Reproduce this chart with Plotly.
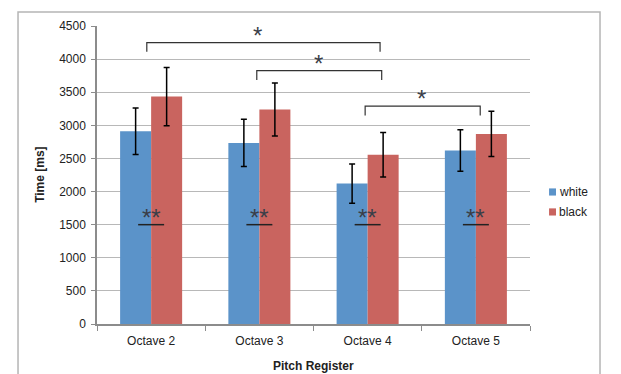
import plotly.graph_objects as go

categories = ["Octave 2", "Octave 3", "Octave 4", "Octave 5"]
series_names = ["white", "black"]
white_vals = [2910, 2735, 2120, 2620]
white_err = [350, 355, 295, 315]
black_vals = [3435, 3240, 2555, 2870]
black_err = [440, 400, 335, 342]
y_ticks = [0, 500, 1000, 1500, 2000, 2500, 3000, 3500, 4000, 4500]

# significance between categories: (from index, to index, bracket height)
sig_pairs = [(0, 2, 4250), (1, 2, 3825), (2, 3, 3290)]
sig_label = "*"
within_label = "**"
within_line_level = 1500

blue = "#5B93C9"
red = "#C9645F"
font_family = "Liberation Sans, Arial, sans-serif"

fig = go.Figure()
fig.add_trace(go.Bar(
    x=categories, y=white_vals, name=series_names[0], marker_color=blue,
    marker_line_width=0,
    error_y=dict(type="data", array=white_err, color="black", thickness=1.5, width=3),
    showlegend=False,
))
fig.add_trace(go.Bar(
    x=categories, y=black_vals, name=series_names[1], marker_color=red,
    marker_line_width=0,
    error_y=dict(type="data", array=black_err, color="black", thickness=1.5, width=3),
    showlegend=False,
))

shapes = []
annotations = []

# outer frame
shapes.append(dict(type="rect", xref="paper", yref="paper",
                   x0=-0.1824, x1=1.1617, y0=-0.25, y1=1.047,
                   line=dict(color="#B5B5B5", width=1.5), layer="below"))

# significance brackets
leg = 140
bracket_ends = {(0, 2): (-0.04, 2.115), (1, 2): (0.976, 2.13), (2, 3): (1.977, 3.04)}
star_x = {(0, 2): 0.98, (1, 2): 1.55, (2, 3): 2.5}
for (a, b, h) in sig_pairs:
    xa, xb = bracket_ends[(a, b)]
    shapes.append(dict(type="path", xref="x", yref="y",
                       path=f"M {xa},{h - leg} L {xa},{h} L {xb},{h} L {xb},{h - leg}",
                       line=dict(color="#333333", width=1.2)))
    annotations.append(dict(x=star_x[(a, b)], y=h, xref="x", yref="y",
                            text=sig_label, showarrow=False, yanchor="bottom",
                            yshift=-8,
                            font=dict(family=font_family, size=24, color="#3A3E48")))

# within-category markers
for i, c in enumerate(categories):
    shapes.append(dict(type="line", xref="x", yref="y",
                       x0=i - 0.12, x1=i + 0.12, y0=within_line_level, y1=within_line_level,
                       line=dict(color="#222222", width=1.5)))
    annotations.append(dict(x=i, y=within_line_level, xref="x", yref="y",
                            text=within_label, showarrow=False, yanchor="bottom",
                            yshift=-8,
                            font=dict(family=font_family, size=24, color="#3A3E48")))

# legend (manual, small squares)
leg_items = [(series_names[0], blue), (series_names[1], red)]
for k, (name, col) in enumerate(leg_items):
    ycen = 0.443 - k * 0.067
    shapes.append(dict(type="rect", xref="paper", yref="paper",
                       x0=1.044, x1=1.060, y0=ycen - 0.012, y1=ycen + 0.012,
                       fillcolor=col, line=dict(width=0)))
    annotations.append(dict(x=1.063, y=ycen, xref="paper", yref="paper",
                            text=name, showarrow=False, xanchor="left", yanchor="middle",
                            font=dict(family=font_family, size=12, color="#222222")))

# axis titles
annotations.append(dict(x=-0.132, y=0.5, xref="paper", yref="paper", text="<b>Time [ms]</b>",
                        textangle=-90, showarrow=False, xanchor="center", yanchor="middle",
                        font=dict(family=font_family, size=12, color="#222222")))
annotations.append(dict(x=0.5, y=-0.142, xref="paper", yref="paper", text="<b>Pitch Register</b>",
                        showarrow=False, xanchor="center", yanchor="middle",
                        font=dict(family=font_family, size=12, color="#222222")))

fig.update_layout(
    width=621, height=374,
    margin=dict(l=89, r=99, t=18, b=58),
    paper_bgcolor="white", plot_bgcolor="white",
    barmode="group", bargap=0.427, bargroupgap=0,
    shapes=shapes, annotations=annotations,
    font=dict(family=font_family, size=12, color="#222222"),
    showlegend=False,
)
fig.update_yaxes(range=[0, 4500], tickvals=y_ticks, showgrid=True, gridcolor="#B8B8B8",
                 gridwidth=1, showline=True, linecolor="#8C8C8C", linewidth=1.5,
                 ticks="outside", ticklen=4, tickcolor="#8C8C8C", zeroline=False,
                 ticklabelstandoff=3,
                 tickfont=dict(size=12, color="#222222"))
fig.update_xaxes(showline=True, linecolor="#8C8C8C", linewidth=1.5,
                 ticks="outside", tickson="boundaries", ticklen=5, tickcolor="#8C8C8C",
                 ticklabelstandoff=5,
                 tickfont=dict(size=12, color="#222222"))

fig.write_html("out.html")
